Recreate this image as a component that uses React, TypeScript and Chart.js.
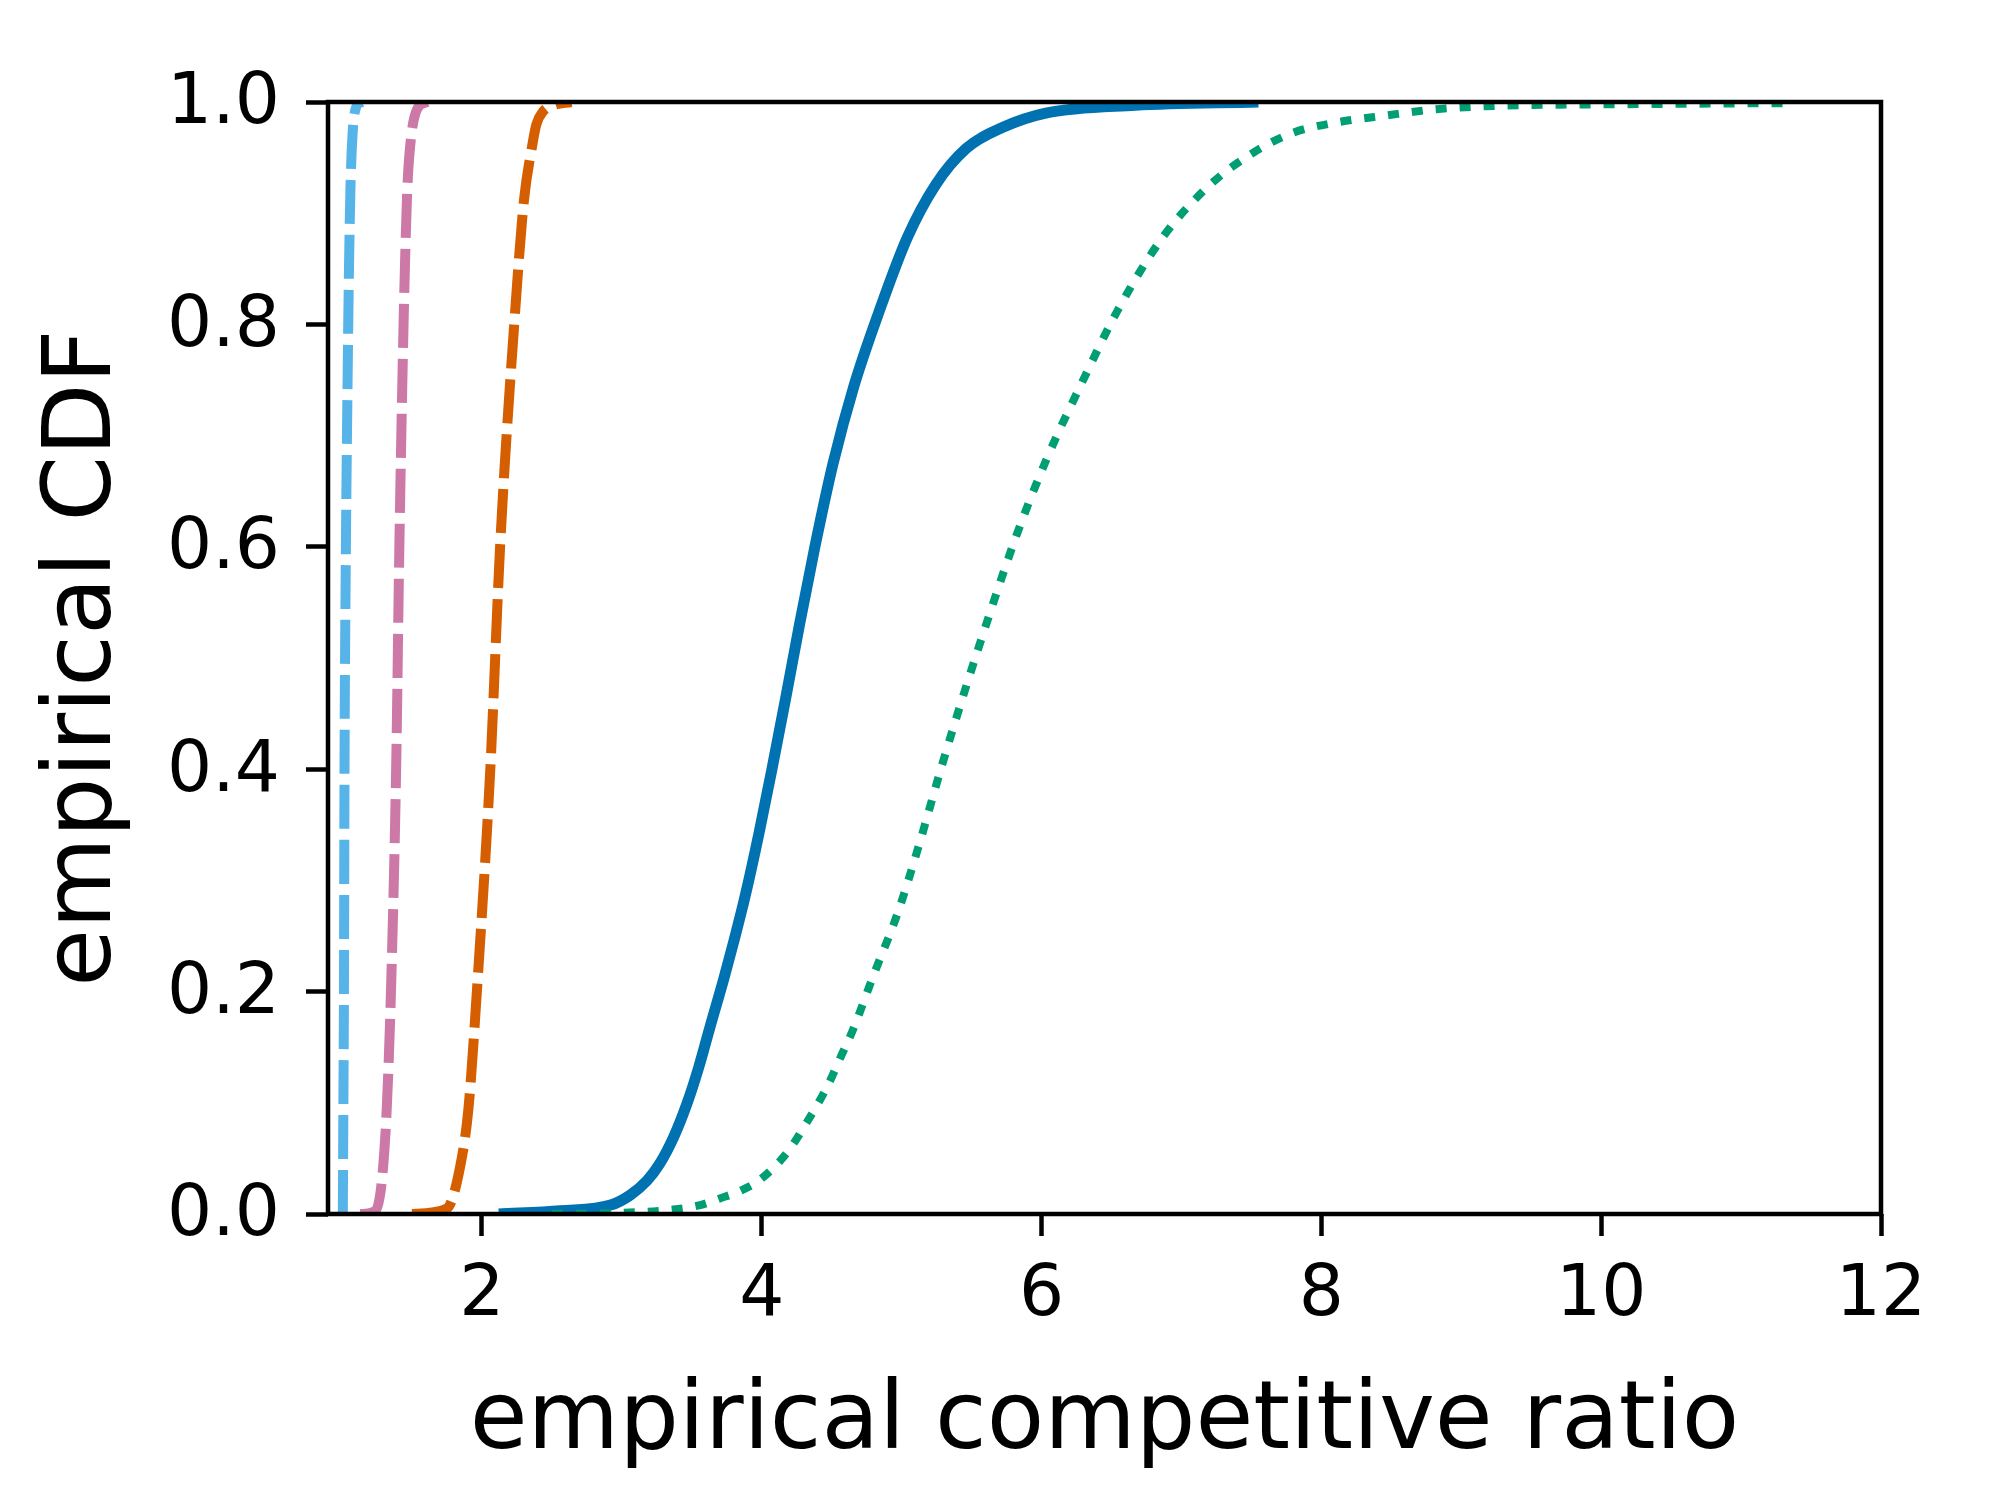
import Chart from "chart.js/auto";
import { useEffect, useRef } from "react";

const xTicks = [2, 4, 6, 8, 10, 12];
const yTicks = [0, 0.2, 0.4, 0.6, 0.8, 1.0];

// empirical CDF curves
const skyX = [1.006, 1.01, 1.014, 1.018, 1.028, 1.04, 1.05, 1.06, 1.075, 1.1, 1.14];
const skyY = [0, 0.1, 0.2, 0.4, 0.6, 0.75, 0.85, 0.92, 0.97, 0.995, 1.0];

const pinkX = [1.13, 1.24, 1.285, 1.32, 1.35, 1.387, 1.41, 1.44, 1.464, 1.48, 1.535, 1.61];
const pinkY = [0, 0.003, 0.03, 0.095, 0.2, 0.4, 0.6, 0.8, 0.912, 0.95, 0.993, 1.0];

const orangeX = [1.5, 1.75, 1.845, 1.904, 1.964, 2.06, 2.13, 2.24, 2.3, 2.357, 2.39, 2.44, 2.51, 2.64];
const orangeY = [0, 0.005, 0.043, 0.095, 0.2, 0.4, 0.6, 0.816, 0.911, 0.959, 0.98, 0.992, 0.997, 1.0];

const blueX = [2.12, 2.56, 2.92, 3.06, 3.18, 3.27, 3.37, 3.465, 3.55, 3.63, 3.73, 3.8, 3.88, 3.98, 4.07, 4.17, 4.27, 4.38, 4.51, 4.66, 4.84, 5.04, 5.24, 5.46, 5.72, 6.03, 6.67, 7.55];
const blueY = [0, 0.003, 0.008, 0.017, 0.03, 0.045, 0.069, 0.099, 0.132, 0.168, 0.212, 0.245, 0.285, 0.342, 0.398, 0.463, 0.53, 0.6, 0.675, 0.745, 0.812, 0.878, 0.925, 0.958, 0.977, 0.99, 0.997, 1.0];

const greenX = [2.5, 2.99, 3.37, 3.56, 3.7, 3.85, 3.99, 4.18, 4.32, 4.47, 4.56, 4.65, 4.8, 4.97, 5.12, 5.28, 5.45, 5.63, 5.82, 6.04, 6.29, 6.55, 6.87, 7.2, 7.52, 7.79, 8.08, 8.47, 8.82, 9.27, 10.15, 11.31];
const greenY = [0, 0.001, 0.004, 0.008, 0.014, 0.021, 0.031, 0.055, 0.082, 0.115, 0.14, 0.165, 0.215, 0.27, 0.33, 0.4, 0.47, 0.54, 0.61, 0.68, 0.748, 0.814, 0.879, 0.925, 0.955, 0.972, 0.981, 0.988, 0.9935, 0.9966, 0.998, 0.999];

const pts = (xs: number[], ys: number[]) => xs.map((x, i) => ({ x, y: ys[i] }));

const font = "DejaVu Sans";

const framePlugin = {
  id: "frame",
  afterDatasetsDraw(chart: Chart) {
    const { ctx, chartArea: a } = chart;
    ctx.save();
    ctx.strokeStyle = "#000";
    ctx.lineWidth = 4.5;
    ctx.strokeRect(a.left, a.top, a.right - a.left, a.bottom - a.top);
    ctx.restore();
  },
};

export default function App() {
  const canvasRef = useRef<HTMLCanvasElement | null>(null);
  const chartRef = useRef<Chart | null>(null);

  useEffect(() => {
    if (!canvasRef.current) {
      return;
    }
    if (chartRef.current) {
      chartRef.current.destroy();
    }

    const line = (data: { x: number; y: number }[], color: string, width: number, dash: number[]) => ({
      data,
      borderColor: color,
      borderWidth: width,
      borderDash: dash,
      pointRadius: 0,
      pointHoverRadius: 0,
      cubicInterpolationMode: "monotone" as const,
      clip: 0,
      fill: false,
    });

    const tickGrid = {
      display: true,
      drawOnChartArea: false,
      drawTicks: true,
      tickLength: 22,
      tickWidth: 4.5,
      tickColor: "#000",
    };

    chartRef.current = new Chart(canvasRef.current, {
      type: "line",
      data: {
        datasets: [
          line(pts(greenX, greenY), "#009E73", 8, [11, 13]),
          line(pts(blueX, blueY), "#0072B2", 11, []),
          line(pts(orangeX, orangeY), "#D55E00", 10, [44, 11]),
          line(pts(pinkX, pinkY), "#CC79A7", 10, [44, 11]),
          line(pts(skyX, skyY), "#56B4E9", 10, [44, 11]),
        ],
      },
      options: {
        responsive: false,
        devicePixelRatio: 1,
        animation: false,
        events: [],
        layout: { padding: { top: 102, right: 119, left: 0, bottom: 0 } },
        plugins: {
          legend: { display: false },
          tooltip: { enabled: false },
        },
        scales: {
          x: {
            type: "linear",
            min: 0.9,
            max: 12,
            afterBuildTicks: (axis) => {
              axis.ticks = xTicks.map((v) => ({ value: v }));
            },
            afterFit: (axis) => {
              axis.height = 286;
            },
            grid: tickGrid,
            border: { display: false },
            ticks: {
              color: "#000",
              padding: 18,
              maxRotation: 0,
              autoSkip: false,
              font: { family: font, size: 71 },
              callback: (v) => String(v),
            },
            title: {
              display: true,
              text: "empirical competitive ratio",
              color: "#000",
              font: { family: font, size: 94 },
              padding: { top: 0, bottom: 20 },
            },
          },
          y: {
            type: "linear",
            min: 0,
            max: 1,
            afterBuildTicks: (axis) => {
              axis.ticks = yTicks.map((v) => ({ value: v }));
            },
            afterFit: (axis) => {
              axis.width = 328;
            },
            grid: tickGrid,
            border: { display: false },
            ticks: {
              color: "#000",
              padding: 26,
              labelOffset: 3,
              autoSkip: false,
              font: { family: font, size: 71 },
              callback: (v) => Number(v).toFixed(1),
            },
            title: {
              display: true,
              text: "empirical CDF",
              color: "#000",
              font: { family: font, size: 94 },
              padding: { top: 29, bottom: 0 },
            },
          },
        },
      },
      plugins: [framePlugin],
    });

    return () => {
      chartRef.current?.destroy();
      chartRef.current = null;
    };
  }, []);

  return (
    <div style={{ position: "fixed", left: 0, top: 0, width: 2000, height: 1500, background: "#fff" }}>
      <canvas ref={canvasRef} width={2000} height={1500} />
    </div>
  );
}
